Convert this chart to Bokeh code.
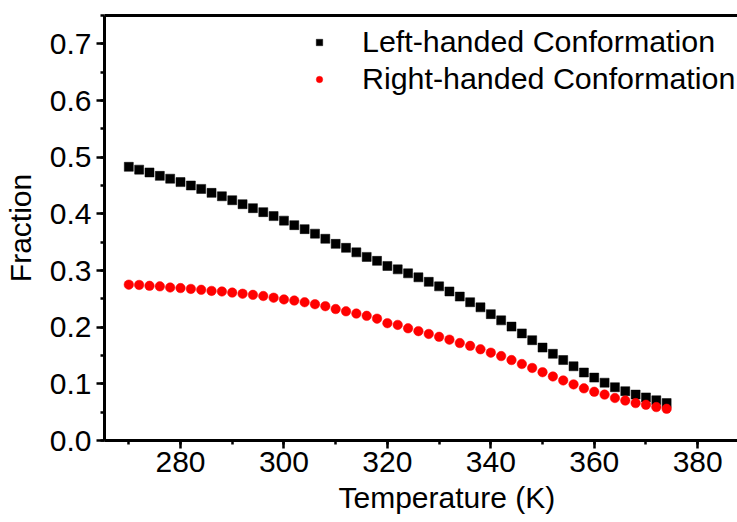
from bokeh.plotting import figure
from bokeh.models import (ColumnDataSource, Range1d, LinearAxis, FixedTicker,
                          NumeralTickFormatter, Legend, LegendItem, Title)
from bokeh.embed import file_html
from bokeh.resources import INLINE

# ---- data ----
temperature = list(range(270, 376, 2))
left_handed = [0.483, 0.478, 0.473, 0.467, 0.462, 0.456, 0.450, 0.444, 0.437, 0.431,
               0.424, 0.417, 0.410, 0.403, 0.396, 0.388, 0.380, 0.373, 0.365, 0.356,
               0.347, 0.340, 0.332, 0.324, 0.317, 0.308, 0.302, 0.295, 0.288, 0.280,
               0.272, 0.263, 0.254, 0.244, 0.235, 0.223, 0.212, 0.201, 0.189, 0.177,
               0.164, 0.153, 0.142, 0.131, 0.120, 0.111, 0.102, 0.094, 0.087, 0.081,
               0.076, 0.071, 0.066]
right_handed = [0.275, 0.2745, 0.273, 0.272, 0.270, 0.269, 0.2675, 0.266, 0.264, 0.263,
                0.261, 0.259, 0.257, 0.255, 0.252, 0.249, 0.247, 0.244, 0.2405, 0.237,
                0.232, 0.228, 0.224, 0.220, 0.215, 0.207, 0.204, 0.198, 0.193, 0.188,
                0.183, 0.178, 0.172, 0.167, 0.161, 0.155, 0.149, 0.142, 0.135, 0.128,
                0.1205, 0.113, 0.106, 0.099, 0.092, 0.086, 0.081, 0.075, 0.0705, 0.066,
                0.063, 0.059, 0.056]
series_labels = ["Left-handed Conformation", "Right-handed Conformation"]
x_ticks = [280, 300, 320, 340, 360, 380]
y_ticks = [0.0, 0.1, 0.2, 0.3, 0.4, 0.5, 0.6, 0.7]
x_title = "Temperature (K)"
y_title = "Fraction"

FONT = "Liberation Sans"
FS = "30px"

src = ColumnDataSource(dict(t=temperature, lh=left_handed, rh=right_handed))

p = figure(width=737, height=522, output_backend="svg", toolbar_location=None,
           x_range=Range1d(265.3, 387.7), y_range=Range1d(0.0, 0.75),
           min_border_left=104, min_border_right=0, min_border_top=15,
           min_border_bottom=82)
p.outline_line_color = None
p.grid.visible = False
p.background_fill_color = "white"
p.border_fill_color = "white"

r1 = p.scatter("t", "lh", source=src, marker="square", size=9,
               fill_color="black", line_color="black", line_width=0.5)
r2 = p.scatter("t", "rh", source=src, marker="circle", size=9.5,
               fill_color="#FF0000", line_color="#FF0000", line_width=0.5)

for ax in (p.xaxis[0], p.yaxis[0]):
    ax.axis_line_width = 3
    ax.major_tick_line_width = 2.5
    ax.minor_tick_line_width = 2.5
    ax.major_tick_out = 8
    ax.major_tick_in = 0
    ax.minor_tick_out = 4
    ax.minor_tick_in = 0
    ax.major_label_text_font = FONT
    ax.major_label_text_font_size = FS
    ax.major_label_text_color = "black"
    ax.axis_label_text_font = FONT
    ax.axis_label_text_font_size = FS
    ax.axis_label_text_font_style = "normal"
    ax.axis_label_text_color = "black"

p.xaxis[0].ticker = FixedTicker(ticks=x_ticks, minor_ticks=list(range(270, 391, 10)))
p.yaxis[0].ticker = FixedTicker(ticks=y_ticks,
                                minor_ticks=[round(0.05 * i, 2) for i in range(0, 16)])
p.yaxis[0].formatter = NumeralTickFormatter(format="0.0")
p.yaxis[0].axis_label = y_title
p.xaxis[0].major_label_standoff = 3
p.yaxis[0].major_label_standoff = 5
p.yaxis[0].axis_label_standoff = 10

# x-axis title, placed slightly right of the frame centre as in the reference
xt = Title(text=x_title, align="left", offset=234, standoff=9,
           text_font=FONT, text_font_size=FS, text_font_style="normal",
           text_color="black")
p.add_layout(xt, "below")

top = LinearAxis(ticker=FixedTicker(ticks=[]), axis_line_width=3,
                 major_tick_out=0, major_tick_in=0, minor_tick_out=0, minor_tick_in=0,
                 major_label_standoff=0, major_label_text_font_size="0px")
p.add_layout(top, "above")

legend = Legend(items=[LegendItem(label=series_labels[0], renderers=[r1]),
                       LegendItem(label=series_labels[1], renderers=[r2])],
                location=(207, 344), orientation="vertical",
                border_line_color=None, background_fill_alpha=0,
                label_text_font=FONT, label_text_font_size="30.4px",
                label_text_color="black",
                glyph_width=16, glyph_height=30, label_height=30,
                label_standoff=35, spacing=2, padding=0, margin=0)
p.add_layout(legend)

open("out.html", "w").write(file_html(p, INLINE))
